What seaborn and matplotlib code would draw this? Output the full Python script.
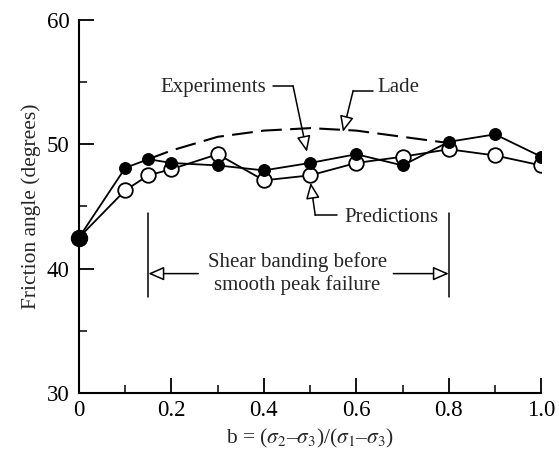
import matplotlib
matplotlib.use('Agg')
import matplotlib.pyplot as plt
import seaborn as sns
import pandas as pd

# ------------------------------------------------------------
# Data
# ------------------------------------------------------------
b_values = [0.0, 0.1, 0.15, 0.2, 0.3, 0.4, 0.5, 0.6, 0.7, 0.8, 0.9, 1.0]
phi_experiments = [42.5, 48.1, 48.8, 48.5, 48.3, 47.9, 48.5, 49.2, 48.3, 50.2, 50.8, 49.0]
phi_predictions = [42.5, 46.3, 47.5, 48.0, 49.2, 47.1, 47.5, 48.5, 49.0, 49.6, 49.1, 48.3]

b_lade = [0.15, 0.2, 0.3, 0.4, 0.5, 0.6, 0.7, 0.8]
phi_lade = [48.8, 49.5, 50.6, 51.1, 51.3, 51.1, 50.6, 50.1]

x_ticks = [0, 0.2, 0.4, 0.6, 0.8, 1.0]
x_ticklabels = ['0', '0.2', '0.4', '0.6', '0.8', '1.0']
y_ticks = [30, 40, 50, 60]

df_exp = pd.DataFrame({'b': b_values, 'phi': phi_experiments})
df_pred = pd.DataFrame({'b': b_values, 'phi': phi_predictions})
df_lade = pd.DataFrame({'b': b_lade, 'phi': phi_lade})

# ------------------------------------------------------------
# Style
# ------------------------------------------------------------
sns.set_theme(style="ticks")
sns.set_style({"xtick.direction": "in", "ytick.direction": "in"})
plt.rcParams['font.family'] = ['Liberation Serif', 'DejaVu Serif']
plt.rcParams['mathtext.fontset'] = 'stix'

fig = plt.figure(figsize=(5.59, 4.5), dpi=100)
ax = fig.add_axes([0.1413, 0.1267, 0.827, 0.829])

# Lade (dashed)
sns.lineplot(data=df_lade, x='b', y='phi', ax=ax, color='black', lw=1.5,
             linestyle=(0, (10, 4)), zorder=2)
# Predictions (open)
sns.lineplot(data=df_pred, x='b', y='phi', ax=ax, color='black', lw=1.3,
             marker='o', markersize=10.5, markerfacecolor='white',
             markeredgecolor='black', markeredgewidth=1.3, zorder=3)
# Experiments (filled)
sns.lineplot(data=df_exp, x='b', y='phi', ax=ax, color='black', lw=1.3,
             marker='o', markersize=8.5, markerfacecolor='black',
             markeredgecolor='black', zorder=4)
# common starting point (both series overlap here)
ax.plot(df_exp['b'].iloc[:1], df_exp['phi'].iloc[:1], 'o', color='black',
        markersize=11.5, zorder=5, clip_on=False)

ax.set_xlim(0, 1.0)
ax.set_ylim(30, 60)
ax.set_xticks(x_ticks)
ax.set_xticklabels(x_ticklabels)
ax.set_xticks([0.1, 0.3, 0.5, 0.7, 0.9], minor=True)
ax.set_yticks(y_ticks)
ax.set_yticks([35, 45, 55], minor=True)
ax.tick_params(axis='both', which='major', length=11, width=1.3, labelsize=16.5,
               colors='black')
ax.tick_params(axis='x', which='major', pad=5)
ax.tick_params(axis='y', which='major', pad=7)
ax.tick_params(axis='both', which='minor', length=6, width=1.3)
for s in ['left', 'bottom']:
    ax.spines[s].set_linewidth(1.5)
    ax.spines[s].set_color('black')
sns.despine(ax=ax, top=True, right=True)

ax.set_xlabel(r'b = ($\sigma_2$–$\sigma_3$)/($\sigma_1$–$\sigma_3$)', fontsize=15.5, labelpad=4)
ax.set_ylabel('Friction angle (degrees)', fontsize=15.5, labelpad=4)

# ------------------------------------------------------------
# Annotations
# ------------------------------------------------------------
arrow = dict(arrowstyle='-|>,head_length=0.8,head_width=0.35', fc='white',
             ec='black', lw=1.1, shrinkA=0, shrinkB=0)
fs = 15

# Experiments
ax.text(0.29, 54.6, 'Experiments', fontsize=fs, ha='center', va='center')
ax.plot([0.42, 0.463], [54.7, 54.7], color='black', lw=1.1)
ax.annotate('', xy=(0.493, 49.4), xytext=(0.463, 54.7), arrowprops=arrow)

# Lade
ax.text(0.69, 54.6, 'Lade', fontsize=fs, ha='center', va='center')
ax.plot([0.635, 0.593], [54.3, 54.3], color='black', lw=1.1)
ax.annotate('', xy=(0.571, 51.0), xytext=(0.593, 54.3), arrowprops=arrow)

# Predictions
ax.text(0.675, 44.15, 'Predictions', fontsize=fs, ha='center', va='center')
ax.plot([0.558, 0.511], [44.3, 44.3], color='black', lw=1.1)
ax.annotate('', xy=(0.501, 46.9), xytext=(0.511, 44.3), arrowprops=arrow)

# Shear banding range
for xv in [0.15, 0.8]:
    ax.plot([xv, xv], [37.7, 44.5], color='black', lw=1.1)
ax.annotate('', xy=(0.15, 39.6), xytext=(0.258, 39.6), arrowprops=arrow)
ax.annotate('', xy=(0.8, 39.6), xytext=(0.68, 39.6), arrowprops=arrow)
ax.text(0.472, 39.6, 'Shear banding before\nsmooth peak failure', fontsize=fs,
        ha='center', va='center', linespacing=1.15)

plt.savefig('out.png', dpi=100)
plt.close()
